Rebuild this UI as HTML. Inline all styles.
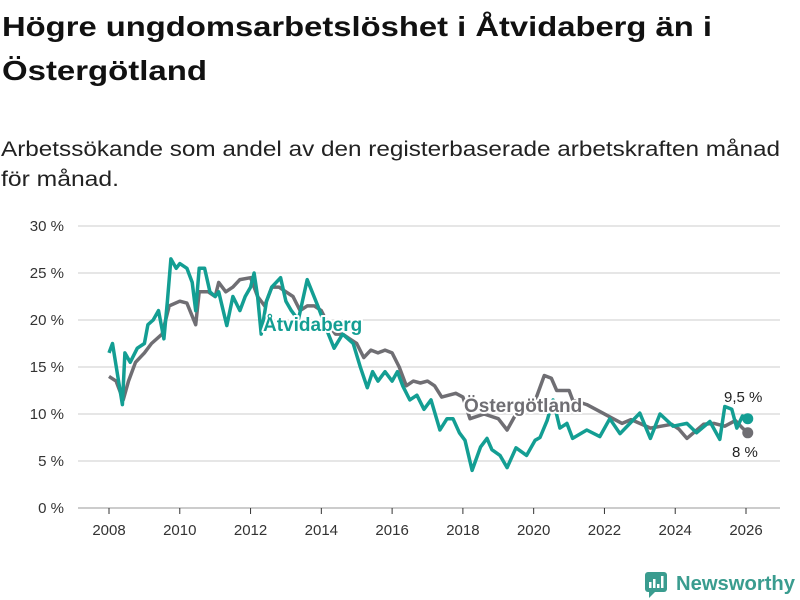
<!DOCTYPE html>
<html><head><meta charset="utf-8"><style>
html,body{margin:0;padding:0;background:#fff;}
svg{display:block;font-family:"Liberation Sans",sans-serif;}
</style></head><body>
<svg id="chart" width="800" height="600" viewBox="0 0 800 600" xmlns="http://www.w3.org/2000/svg">
<text x="2" y="36" font-size="28" font-weight="bold" fill="#111" textLength="710" lengthAdjust="spacingAndGlyphs">Högre ungdomsarbetslöshet i Åtvidaberg än i</text>
<text x="2" y="80" font-size="28" font-weight="bold" fill="#111" textLength="205" lengthAdjust="spacingAndGlyphs">Östergötland</text>
<text x="1" y="156" font-size="21" fill="#222" textLength="779" lengthAdjust="spacingAndGlyphs">Arbetssökande som andel av den registerbaserade arbetskraften månad</text>
<text x="1" y="186" font-size="21" fill="#222" textLength="118" lengthAdjust="spacingAndGlyphs">för månad.</text>
<g id="grid"></g>
<g id="xaxis"></g>
<g id="series"></g>
<g id="labels"></g>
<g>
<rect x="645" y="572" width="22" height="20" rx="3" fill="#3a9c8f"/>
<polygon points="649,592 655,592 649,598" fill="#3a9c8f"/>
<rect x="649" y="582" width="2.5" height="6" fill="#fff"/><rect x="653" y="579" width="2.5" height="9" fill="#fff"/><rect x="657" y="584" width="2.5" height="4" fill="#fff"/><rect x="661" y="576" width="2.5" height="12" fill="#fff"/>
<text x="676" y="590" font-size="20" font-weight="bold" fill="#3a9c8f" textLength="119" lengthAdjust="spacingAndGlyphs">Newsworthy</text>
</g>
</svg>
<script>
const yTicks=[0,5,10,15,20,25,30];
const yTickLabels=["0 %","5 %","10 %","15 %","20 %","25 %","30 %"];
const xTicks=[2008,2010,2012,2014,2016,2018,2020,2022,2024,2026];
const atvYears=[2008.0,2008.1,2008.25,2008.38,2008.45,2008.6,2008.8,2009.0,2009.1,2009.25,2009.4,2009.55,2009.65,2009.75,2009.9,2010.0,2010.2,2010.35,2010.45,2010.55,2010.7,2010.85,2011.0,2011.1,2011.33,2011.5,2011.7,2011.85,2012.0,2012.1,2012.2,2012.3,2012.45,2012.6,2012.85,2013.0,2013.15,2013.35,2013.6,2013.9,2014.2,2014.36,2014.6,2014.9,2015.1,2015.3,2015.45,2015.6,2015.8,2016.0,2016.15,2016.3,2016.5,2016.7,2016.9,2017.1,2017.35,2017.55,2017.72,2017.9,2018.06,2018.26,2018.5,2018.68,2018.82,2019.05,2019.25,2019.5,2019.8,2020.04,2020.18,2020.38,2020.55,2020.74,2020.94,2021.1,2021.5,2021.87,2022.15,2022.44,2022.72,2023.0,2023.3,2023.57,2023.94,2024.33,2024.6,2024.98,2025.26,2025.4,2025.6,2025.74,2025.9,2026.05];
const atvValues=[16.5,17.5,14,11,16.5,15.5,17,17.5,19.5,20,21,18,22,26.5,25.5,26,25.5,24,21,25.5,25.5,23,22.5,23,19.4,22.5,21,22.5,23.5,25,22.5,18.5,22,23.5,24.5,22,21,20,24.3,21.5,18.5,17,18.5,17.5,15,12.8,14.5,13.5,14.5,13.5,14.5,13,11.5,12,10.5,11.5,8.3,9.5,9.5,8,7.2,4.0,6.5,7.4,6.2,5.6,4.3,6.4,5.6,7.2,7.5,9.3,11.5,8.5,9,7.4,8.3,7.6,9.5,7.9,9.0,10.1,7.4,10,8.7,9.0,8.0,9.2,7.3,10.8,10.5,8.5,9.8,9.5];
const ostYears=[2008.0,2008.2,2008.4,2008.55,2008.75,2009.0,2009.2,2009.5,2009.7,2010.0,2010.2,2010.45,2010.55,2010.8,2011.0,2011.1,2011.3,2011.5,2011.7,2012.0,2012.2,2012.4,2012.6,2012.8,2013.0,2013.2,2013.4,2013.6,2013.8,2014.0,2014.2,2014.4,2014.6,2014.8,2015.0,2015.2,2015.4,2015.6,2015.8,2016.0,2016.2,2016.4,2016.6,2016.8,2017.0,2017.2,2017.4,2017.6,2017.8,2018.0,2018.2,2018.6,2019.0,2019.25,2019.5,2019.8,2020.0,2020.3,2020.5,2020.65,2021.0,2021.1,2021.5,2021.9,2022.2,2022.5,2022.75,2023.0,2023.3,2023.6,2023.9,2024.1,2024.33,2024.8,2025.1,2025.4,2025.7,2025.9,2026.05];
const ostValues=[14,13.5,11.5,13.5,15.5,16.5,17.5,18.5,21.5,22,21.8,19.5,23,23,22.5,24,23,23.5,24.3,24.5,22.5,21.5,23.5,23.5,23,22.5,21,21.5,21.5,21,19.5,18.5,18.5,18,17.5,16,16.8,16.5,16.8,16.5,15,13,13.5,13.3,13.5,13,11.8,12,12.2,11.8,9.5,10,9.5,8.3,10,11,11,14.1,13.8,12.5,12.5,11.5,11,10.2,9.6,9,9.4,9,8.5,8.7,8.9,8.4,7.4,8.9,9,8.7,9.3,8.5,8];
const NS="http://www.w3.org/2000/svg";
const X=y=>109+(y-2008)*(746-109)/18;
const Y=v=>508-v*(508-226)/30;
function mk(tag,attrs,parent){const e=document.createElementNS(NS,tag);for(const k in attrs)e.setAttribute(k,attrs[k]);parent.appendChild(e);return e;}
const grid=document.getElementById('grid');
yTicks.forEach((t,i)=>{
  const l=mk('line',{x1:78,x2:780,y1:Y(t),y2:Y(t),stroke:t===0?'#bbb':'#ddd','stroke-width':t===0?1.5:1.5},grid);
  
  
  const tx=mk('text',{x:64,y:Y(t)+5,'font-size':15,fill:'#333','text-anchor':'end'},grid);
  
  
  tx.textContent=yTickLabels[i];
});
const xa=document.getElementById('xaxis');
xTicks.forEach(t=>{
  const l=mk('line',{x1:X(t),x2:X(t),y1:508,y2:514,stroke:'#333','stroke-width':1},xa);
  
  
  const tx=mk('text',{x:X(t),y:535,'font-size':15,fill:'#333','text-anchor':'middle'},xa);
  
  
  tx.textContent=t;
});
const sg=document.getElementById('series');
function line(years,vals,color,name){
  const d=years.map((y,i)=>(i?'L':'M')+X(y).toFixed(1)+','+Y(vals[i]).toFixed(1)).join('');
  const p=mk('path',{d:d,fill:'none',stroke:color,'stroke-width':3.5,'stroke-linejoin':'round'},sg);
  
  
  const n=years.length-1;
  const c=mk('circle',{cx:X(years[n]),cy:Y(vals[n]),r:5.5,fill:color},sg);
  
  
}
line(ostYears,ostValues,'#6f6e73','ostergotland-line');
line(atvYears,atvValues,'#139e93','atvidaberg-line');
const lg=document.getElementById('labels');
function lab(x,y,txt,color,name,size,bold){
  const t=mk('text',{x:x,y:y,'font-size':size,fill:color,'font-weight':bold?'bold':'normal',stroke:'#fff','stroke-width':bold?4:3,'paint-order':'stroke','stroke-linejoin':'round'},lg);
  
  
  t.textContent=txt;
}
lab(263,331,'Åtvidaberg','#139e93','atvidaberg-label',19,true);
lab(464,412,'Östergötland','#6f6e73','ostergotland-label',19,true);
lab(724,402,'9,5 %','#222','atvidaberg-end-value',15,false);
lab(732,457,'8 %','#222','ostergotland-end-value',15,false);
</script>
</body></html>
